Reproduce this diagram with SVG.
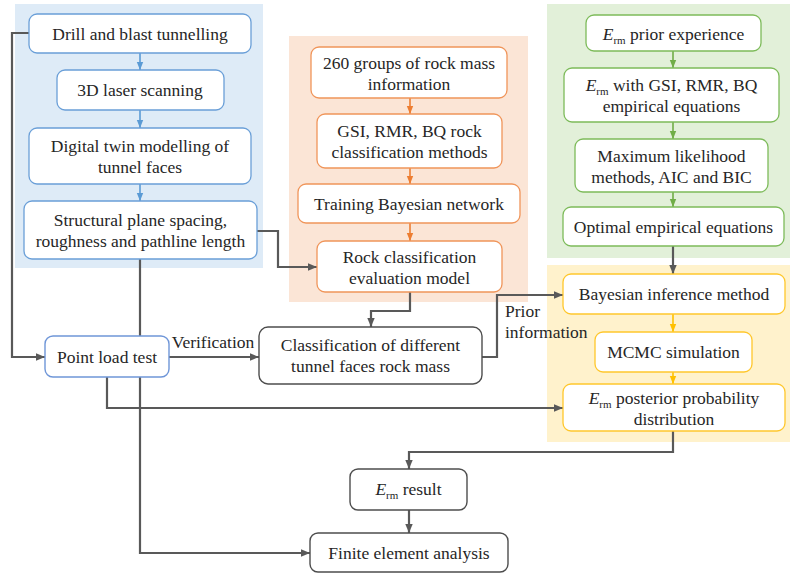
<svg xmlns="http://www.w3.org/2000/svg" width="790" height="574" viewBox="0 0 790 574">
<defs>
<style>
.c{text-anchor:middle}
rect.b{fill:#fff;stroke:#6a9fd8;stroke-width:1.3}
rect.o{fill:#fff;stroke:#f0955a;stroke-width:1.3}
rect.g{fill:#fff;stroke:#7dbb5a;stroke-width:1.3}
rect.y{fill:#fff;stroke:#ffc72c;stroke-width:1.3}
rect.k{fill:#fff;stroke:#4d4d4d;stroke-width:1.4}
.cb{stroke:#5b9bd5;stroke-width:1.6;fill:none;marker-end:url(#ab)}
.co{stroke:#ed7d31;stroke-width:1.6;fill:none;marker-end:url(#ao)}
.cg{stroke:#70ad47;stroke-width:1.6;fill:none;marker-end:url(#ag)}
.cy{stroke:#ffc000;stroke-width:1.6;fill:none;marker-end:url(#ay)}
.ck{stroke:#595959;stroke-width:2.2;fill:none;marker-end:url(#ak)}
</style>
<marker id="ab" markerUnits="userSpaceOnUse" markerWidth="8" markerHeight="8" viewBox="0 0 8 8" refX="8" refY="4" orient="auto"><path d="M0,0.8 L8,4 L0,7.2 Z" fill="#5b9bd5"/></marker>
<marker id="ao" markerUnits="userSpaceOnUse" markerWidth="8" markerHeight="8" viewBox="0 0 8 8" refX="8" refY="4" orient="auto"><path d="M0,0.8 L8,4 L0,7.2 Z" fill="#ed7d31"/></marker>
<marker id="ag" markerUnits="userSpaceOnUse" markerWidth="8" markerHeight="8" viewBox="0 0 8 8" refX="8" refY="4" orient="auto"><path d="M0,0.8 L8,4 L0,7.2 Z" fill="#70ad47"/></marker>
<marker id="ay" markerUnits="userSpaceOnUse" markerWidth="8" markerHeight="8" viewBox="0 0 8 8" refX="8" refY="4" orient="auto"><path d="M0,0.8 L8,4 L0,7.2 Z" fill="#ffc000"/></marker>
<marker id="ak" markerUnits="userSpaceOnUse" markerWidth="9" markerHeight="9" viewBox="0 0 9 9" refX="9" refY="4.5" orient="auto"><path d="M0,0.8 L9,4.5 L0,8.2 Z" fill="#595959"/></marker>
</defs>
<rect width="790" height="574" fill="#fff"/>
<g id="panels">
<rect x="15" y="4" width="248" height="264" fill="#deebf7"/>
<rect x="289" y="36" width="239" height="266" fill="#fbe5d6"/>
<rect x="547" y="4" width="243" height="254" fill="#e2f0d9"/>
<rect x="547" y="265" width="243" height="177" fill="#fff2cc"/>
</g>
<g id="connectors">
<path class="cb" d="M140,53 V70"/>
<path class="cb" d="M140,110 V128"/>
<path class="cb" d="M140,184 V201"/>
<path class="co" d="M410,98 V114"/>
<path class="co" d="M410,168 V184"/>
<path class="co" d="M410,223 V241"/>
<path class="cg" d="M673,51 V68"/>
<path class="cg" d="M673,122 V139"/>
<path class="cg" d="M673,192 V207"/>
<path class="cy" d="M673,314 V332"/>
<path class="cy" d="M673,372 V384"/>
<path class="ck" d="M29,33 H12 V357 H45"/>
<path class="ck" d="M257,231 H278 V267 H317"/>
<path class="ck" d="M140,259 V553 H310"/>
<path class="ck" d="M410,292 V311 H371 V327"/>
<path class="ck" d="M169,357 H259"/>
<path class="ck" d="M482,357 H497 V295 H563"/>
<path class="ck" d="M673,246 V274"/>
<path class="ck" d="M107,377 V408 H563"/>
<path class="ck" d="M673,431 V452 H409 V469"/>
<path class="ck" d="M409,510 V533"/>
<text x="213" y="348" class="c" font-family="Liberation Serif" font-size="17.5" fill="#262626">Verification</text>
<text x="505" y="317" font-family="Liberation Serif" font-size="17.5" fill="#262626">Prior</text>
<text x="505" y="338" font-family="Liberation Serif" font-size="17.5" fill="#262626">information</text>
</g>
<g id="drill"><rect class="b" x="29" y="14" width="222" height="39" rx="8"/><text x="140" y="40" class="c" font-family="Liberation Serif" font-size="17.5" fill="#262626">Drill and blast tunnelling</text></g>
<g id="laser"><rect class="b" x="57" y="70" width="167" height="40" rx="8"/><text x="140" y="96" class="c" font-family="Liberation Serif" font-size="17.5" fill="#262626">3D laser scanning</text></g>
<g id="twin"><rect class="b" x="29" y="128" width="222" height="56" rx="8"/><text x="140" y="152" class="c" font-family="Liberation Serif" font-size="17.5" fill="#262626">Digital twin modelling of</text><text x="140" y="173" class="c" font-family="Liberation Serif" font-size="17.5" fill="#262626">tunnel faces</text></g>
<g id="structural"><rect class="b" x="24" y="201" width="233" height="58" rx="8"/><text x="140.5" y="226" class="c" font-family="Liberation Serif" font-size="17.5" fill="#262626">Structural plane spacing,</text><text x="140.5" y="247" class="c" font-family="Liberation Serif" font-size="17.5" fill="#262626">roughness and pathline length</text></g>
<g id="groups"><rect class="o" x="311" y="47" width="196" height="51" rx="8"/><text x="409" y="69" class="c" font-family="Liberation Serif" font-size="17.5" fill="#262626">260 groups of rock mass</text><text x="409" y="90" class="c" font-family="Liberation Serif" font-size="17.5" fill="#262626">information</text></g>
<g id="gsi"><rect class="o" x="317" y="114" width="185" height="54" rx="8"/><text x="409.5" y="137" class="c" font-family="Liberation Serif" font-size="17.5" fill="#262626">GSI, RMR, BQ rock</text><text x="409.5" y="158" class="c" font-family="Liberation Serif" font-size="17.5" fill="#262626">classification methods</text></g>
<g id="training"><rect class="o" x="298" y="184" width="222" height="39" rx="8"/><text x="409" y="210" class="c" font-family="Liberation Serif" font-size="17.5" fill="#262626">Training Bayesian network</text></g>
<g id="evalmodel"><rect class="o" x="317" y="241" width="185" height="51" rx="8"/><text x="409.5" y="263" class="c" font-family="Liberation Serif" font-size="17.5" fill="#262626">Rock classification</text><text x="409.5" y="284" class="c" font-family="Liberation Serif" font-size="17.5" fill="#262626">evaluation model</text></g>
<g id="prior"><rect class="g" x="586" y="15" width="175" height="36" rx="8"/><text x="673.5" y="40" class="c" font-family="Liberation Serif" font-size="17.5" fill="#262626"><tspan font-style="italic">E</tspan><tspan font-size="11" dy="4">rm</tspan><tspan dy="-4"> prior experience</tspan></text></g>
<g id="empirical"><rect class="g" x="564" y="68" width="215" height="54" rx="8"/><text x="671.5" y="91" class="c" font-family="Liberation Serif" font-size="17.5" fill="#262626"><tspan font-style="italic">E</tspan><tspan font-size="11" dy="4">rm</tspan><tspan dy="-4"> with GSI, RMR, BQ</tspan></text><text x="671.5" y="112" class="c" font-family="Liberation Serif" font-size="17.5" fill="#262626">empirical equations</text></g>
<g id="likelihood"><rect class="g" x="575" y="139" width="193" height="53" rx="8"/><text x="671.5" y="162" class="c" font-family="Liberation Serif" font-size="17.5" fill="#262626">Maximum likelihood</text><text x="671.5" y="183" class="c" font-family="Liberation Serif" font-size="17.5" fill="#262626">methods, AIC and BIC</text></g>
<g id="optimal"><rect class="g" x="563" y="207" width="221" height="39" rx="8"/><text x="673.5" y="233" class="c" font-family="Liberation Serif" font-size="17.5" fill="#262626">Optimal empirical equations</text></g>
<g id="bayesian"><rect class="y" x="563" y="274" width="222" height="40" rx="8"/><text x="674" y="300" class="c" font-family="Liberation Serif" font-size="17.5" fill="#262626">Bayesian inference method</text></g>
<g id="mcmc"><rect class="y" x="595" y="332" width="157" height="40" rx="8"/><text x="673.5" y="358" class="c" font-family="Liberation Serif" font-size="17.5" fill="#262626">MCMC simulation</text></g>
<g id="posterior"><rect class="y" x="563" y="384" width="222" height="47" rx="8"/><text x="674" y="404" class="c" font-family="Liberation Serif" font-size="17.5" fill="#262626"><tspan font-style="italic">E</tspan><tspan font-size="11" dy="4">rm</tspan><tspan dy="-4"> posterior probability</tspan></text><text x="674" y="425" class="c" font-family="Liberation Serif" font-size="17.5" fill="#262626">distribution</text></g>
<g id="pointload"><rect x="45" y="336" width="124" height="41" rx="8" fill="#fff" stroke="#6f96d8" stroke-width="1.4"/><text x="107" y="363" class="c" font-family="Liberation Serif" font-size="17.5" fill="#262626">Point load test</text></g>
<g id="classification"><rect class="k" x="259" y="327" width="223" height="57" rx="9"/><text x="370.5" y="351" class="c" font-family="Liberation Serif" font-size="17.5" fill="#262626">Classification of different</text><text x="370.5" y="372" class="c" font-family="Liberation Serif" font-size="17.5" fill="#262626">tunnel faces rock mass</text></g>
<g id="result"><rect class="k" x="350" y="469" width="117" height="41" rx="8"/><text x="408.5" y="495" class="c" font-family="Liberation Serif" font-size="17.5" fill="#262626"><tspan font-style="italic">E</tspan><tspan font-size="11" dy="4">rm</tspan><tspan dy="-4"> result</tspan></text></g>
<g id="finite"><rect class="k" x="310" y="533" width="198" height="39" rx="8"/><text x="409" y="559" class="c" font-family="Liberation Serif" font-size="17.5" fill="#262626">Finite element analysis</text></g>
</svg>
